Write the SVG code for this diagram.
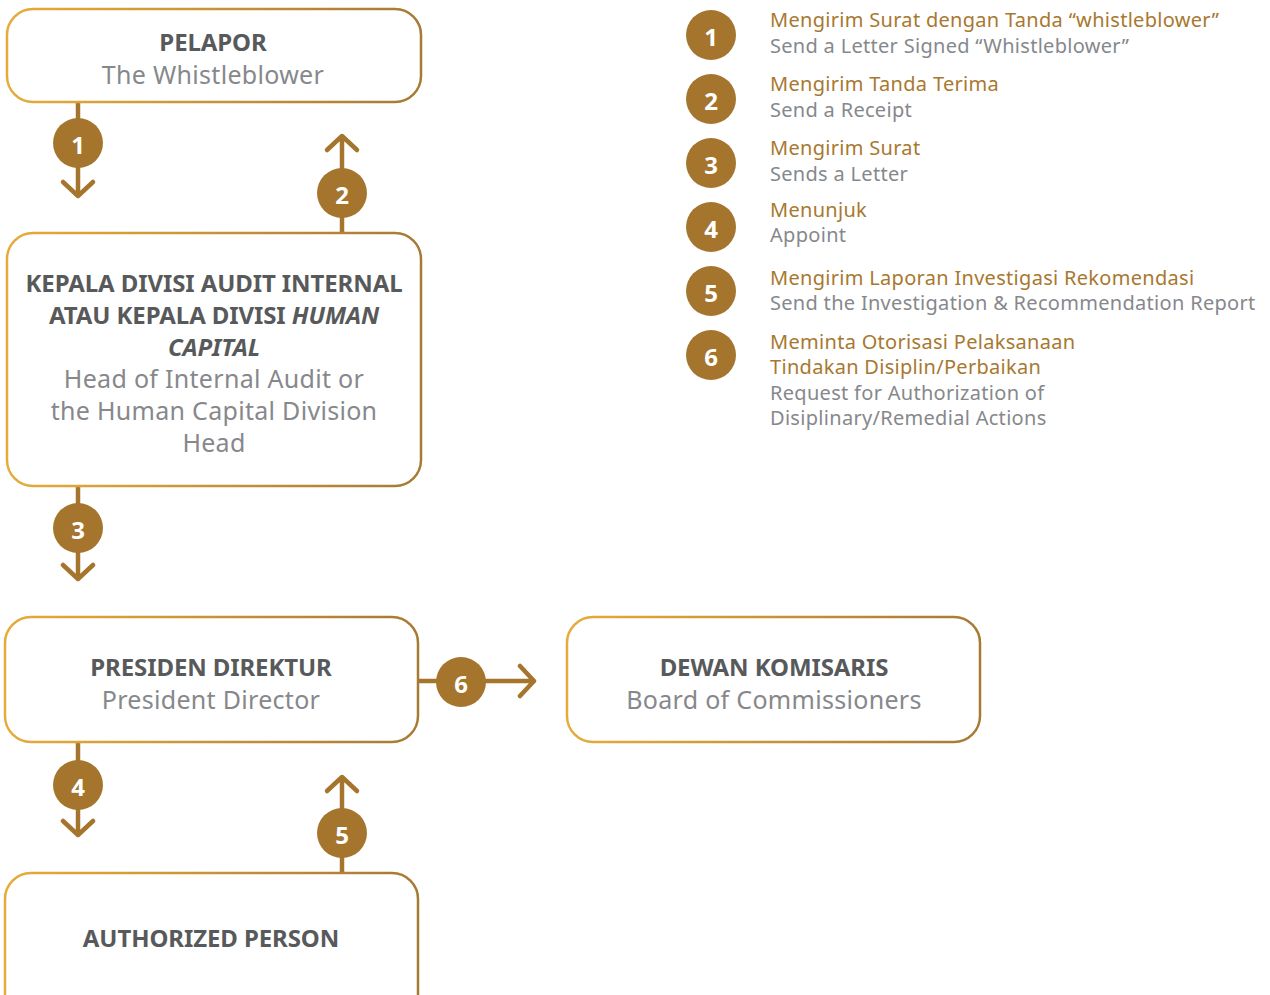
<svg xmlns="http://www.w3.org/2000/svg" width="1270" height="995" viewBox="0 0 1270 995">
<defs>
<linearGradient id="bd" x1="0" y1="0" x2="1" y2="0">
<stop offset="0" stop-color="#E6AC3A"/>
<stop offset="1" stop-color="#A77A33"/>
</linearGradient>
</defs>
<style>
.box{fill:#fff;stroke:url(#bd);stroke-width:2.5}
.h{font-family:"Noto Sans","Open Sans",sans-serif;font-weight:700;font-size:24px;fill:#58595B;text-anchor:middle;letter-spacing:-0.1px}
.s{font-family:"Noto Sans","Open Sans",sans-serif;font-size:25px;fill:#86888C;text-anchor:middle;letter-spacing:0.3px}
.ln{stroke:#A5752D;stroke-width:4.5;fill:none;stroke-linecap:round;stroke-linejoin:round}
.c{fill:#A5752D}
.n{font-family:"Noto Sans","Open Sans",sans-serif;font-weight:700;font-size:24px;fill:#fff;text-anchor:middle}
.lg{font-family:"Noto Sans","Open Sans",sans-serif;font-size:20px;fill:#A8782F;letter-spacing:0.3px}
.lt{font-family:"Noto Sans","Open Sans",sans-serif;font-size:20px;fill:#86888C;letter-spacing:0.3px}
</style>

<g id="connectors">
<g id="c1"><path class="ln" d="M78,102 V196 M63,182 L78,196 L93,182"/><circle class="c" cx="78" cy="143" r="25"/><text class="n" x="78" y="154">1</text></g>
<g id="c2"><path class="ln" d="M342,233 V136 M327,150 L342,136 L357,150"/><circle class="c" cx="342" cy="193" r="25"/><text class="n" x="342" y="204">2</text></g>
<g id="c3"><path class="ln" d="M78,486 V579 M63,565 L78,579 L93,565"/><circle class="c" cx="78" cy="528" r="25"/><text class="n" x="78" y="539">3</text></g>
<g id="c4"><path class="ln" d="M78,742 V835 M63,821 L78,835 L93,821"/><circle class="c" cx="78" cy="785" r="25"/><text class="n" x="78" y="796">4</text></g>
<g id="c5"><path class="ln" d="M342,873 V777 M327,791 L342,777 L357,791"/><circle class="c" cx="342" cy="833" r="25"/><text class="n" x="342" y="844">5</text></g>
<g id="c6"><path class="ln" d="M418,681 H534 M520,666 L534,681 L520,696"/><circle class="c" cx="461" cy="682" r="25"/><text class="n" x="461" y="693">6</text></g>
</g>

<g id="pelapor">
<rect class="box" x="7" y="9" width="414" height="93" rx="26"/>
<text class="h" x="213" y="51">PELAPOR</text>
<text class="s" x="213" y="84">The Whistleblower</text>
</g>

<g id="kepala">
<rect class="box" x="7" y="233" width="414" height="253" rx="26"/>
<text class="h" x="214" y="292">KEPALA DIVISI AUDIT INTERNAL</text>
<text class="h" x="214" y="324">ATAU KEPALA DIVISI <tspan font-style="italic">HUMAN</tspan></text>
<text class="h" x="214" y="356" font-style="italic">CAPITAL</text>
<text class="s" x="214" y="388">Head of Internal Audit or</text>
<text class="s" x="214" y="420">the Human Capital Division</text>
<text class="s" x="214" y="452">Head</text>
</g>

<g id="presiden">
<rect class="box" x="5" y="617" width="413" height="125" rx="26"/>
<text class="h" x="211" y="676">PRESIDEN DIREKTUR</text>
<text class="s" x="211" y="709">President Director</text>
</g>

<g id="dewan">
<rect class="box" x="567" y="617" width="413" height="125" rx="26"/>
<text class="h" x="774" y="676">DEWAN KOMISARIS</text>
<text class="s" x="774" y="709">Board of Commissioners</text>
</g>

<g id="authorized">
<rect class="box" x="5" y="873" width="413" height="150" rx="26"/>
<text class="h" x="211" y="947">AUTHORIZED PERSON</text>
</g>

<g id="legend">
<circle class="c" cx="711" cy="35" r="25"/><text class="n" x="711" y="46">1</text>
<text class="lg" x="770" y="27">Mengirim Surat dengan Tanda “whistleblower”</text>
<text class="lt" x="770" y="53">Send a Letter Signed “Whistleblower”</text>
<circle class="c" cx="711" cy="99" r="25"/><text class="n" x="711" y="110">2</text>
<text class="lg" x="770" y="91">Mengirim Tanda Terima</text>
<text class="lt" x="770" y="117">Send a Receipt</text>
<circle class="c" cx="711" cy="163" r="25"/><text class="n" x="711" y="174">3</text>
<text class="lg" x="770" y="155">Mengirim Surat</text>
<text class="lt" x="770" y="181">Sends a Letter</text>
<circle class="c" cx="711" cy="227" r="25"/><text class="n" x="711" y="238">4</text>
<text class="lg" x="770" y="217">Menunjuk</text>
<text class="lt" x="770" y="242">Appoint</text>
<circle class="c" cx="711" cy="291" r="25"/><text class="n" x="711" y="302">5</text>
<text class="lg" x="770" y="285">Mengirim Laporan Investigasi Rekomendasi</text>
<text class="lt" x="770" y="310">Send the Investigation &amp; Recommendation Report</text>
<circle class="c" cx="711" cy="355" r="25"/><text class="n" x="711" y="366">6</text>
<text class="lg" x="770" y="349">Meminta Otorisasi Pelaksanaan</text>
<text class="lg" x="770" y="374">Tindakan Disiplin/Perbaikan</text>
<text class="lt" x="770" y="400">Request for Authorization of</text>
<text class="lt" x="770" y="425">Disiplinary/Remedial Actions</text>
</g>
</svg>
